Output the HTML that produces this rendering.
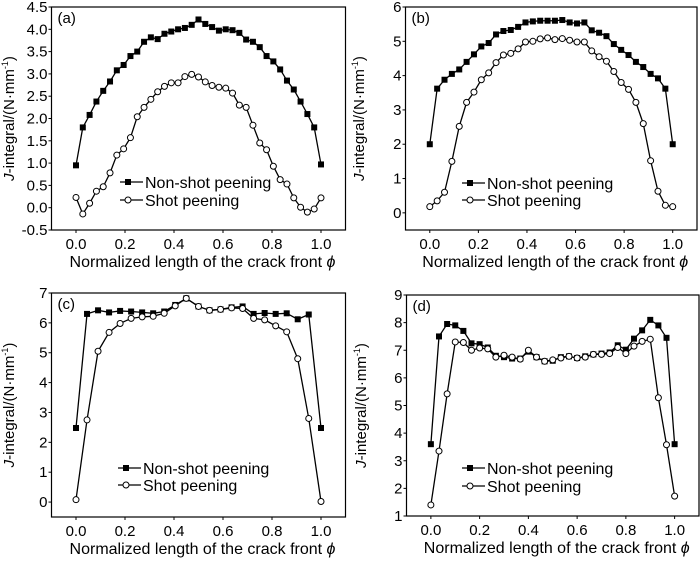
<!DOCTYPE html>
<html><head><meta charset="utf-8">
<style>
html,body{margin:0;padding:0;background:#fff;}
svg{display:block;font-family:"Liberation Sans",sans-serif;}
</style></head>
<body>
<svg id="fig" width="700" height="561" viewBox="0 0 700 561" xmlns="http://www.w3.org/2000/svg"></svg>
<script>
// ---- data ----
const xA = Array.from({length:37},(_, i)=>i/36);
const nonShotA = [0.95,1.8,2.08,2.38,2.62,2.83,3.08,3.2,3.4,3.5,3.72,3.82,3.78,3.9,3.95,4.0,4.03,4.1,4.22,4.12,4.05,3.97,4.0,3.98,3.92,3.77,3.72,3.6,3.4,3.28,3.1,2.85,2.65,2.38,2.1,1.8,0.97];
const shotA = [0.23,-0.14,0.1,0.37,0.47,0.78,1.18,1.32,1.57,2.04,2.25,2.43,2.6,2.72,2.8,2.8,2.94,2.99,2.93,2.82,2.74,2.7,2.68,2.57,2.3,2.25,1.85,1.45,1.3,0.93,0.63,0.53,0.22,0.01,-0.1,-0.03,0.22];
const xB = Array.from({length:34},(_, i)=>i/33);
const nonShotB = [2.0,3.62,3.88,4.05,4.18,4.4,4.62,4.85,4.95,5.2,5.3,5.33,5.42,5.55,5.58,5.6,5.6,5.6,5.62,5.55,5.52,5.55,5.32,5.25,5.15,4.92,4.75,4.6,4.4,4.25,4.05,3.92,3.62,2.0];
const shotB = [0.18,0.35,0.6,1.5,2.52,3.22,3.52,3.88,4.08,4.38,4.6,4.65,4.78,4.98,5.0,5.07,5.1,5.05,5.08,5.03,4.98,4.98,4.72,4.55,4.42,4.12,3.8,3.6,3.22,2.6,1.52,0.63,0.22,0.18];
const xC = [0,0.045,0.09,0.135,0.18,0.225,0.27,0.315,0.36,0.405,0.45,0.5,0.545,0.59,0.635,0.68,0.725,0.77,0.815,0.86,0.905,0.95,1.0];
const nonShotC = [2.48,6.3,6.42,6.35,6.4,6.38,6.35,6.32,6.38,6.6,6.82,6.55,6.42,6.45,6.52,6.55,6.3,6.33,6.3,6.32,6.12,6.28,2.48];
const shotC = [0.08,2.75,5.05,5.68,5.98,6.15,6.2,6.22,6.32,6.57,6.82,6.55,6.42,6.45,6.5,6.48,6.15,6.1,5.9,5.7,4.8,2.8,0.02];
const xD = Array.from({length:31},(_, i)=>i/30);
const nonShotD = [3.6,7.5,7.95,7.9,7.7,7.25,7.22,7.1,6.8,6.75,6.7,6.7,6.95,6.75,6.6,6.62,6.75,6.78,6.72,6.78,6.85,6.88,6.92,7.18,7.02,7.42,7.72,8.1,7.9,7.45,3.6];
const shotD = [1.4,3.35,5.42,7.3,7.28,7.0,7.08,7.05,6.75,6.82,6.75,6.68,7.0,6.75,6.6,6.65,6.72,6.78,6.72,6.75,6.85,6.85,6.88,7.1,6.88,7.15,7.32,7.4,5.28,3.58,1.72];
const xTicks = [0.0,0.2,0.4,0.6,0.8,1.0];
const yTicksA = [-0.5,0.0,0.5,1.0,1.5,2.0,2.5,3.0,3.5,4.0,4.5];
const yTicksB = [0,1,2,3,4,5,6];
const yTicksC = [0,1,2,3,4,5,6,7];
const yTicksD = [1,2,3,4,5,6,7,8,9];

const NS='http://www.w3.org/2000/svg';
const svg=document.getElementById('fig');
function mk(tag,attrs,parent){const e=document.createElementNS(NS,tag);for(const k in attrs)e.setAttribute(k,attrs[k]);(parent||svg).appendChild(e);return e;}

function panel(p){
  const g=mk('g',{});
  
  
  const sx=v=>p.x0+(v-p.xmin)/(p.xmax-p.xmin)*(p.x1-p.x0);
  const sy=v=>p.y1-(v-p.ymin)/(p.ymax-p.ymin)*(p.y1-p.y0);
  const frame=mk('rect',{x:p.x0,y:p.y0,width:p.x1-p.x0,height:p.y1-p.y0,fill:'none',stroke:'#000','stroke-width':1.2},g);
  
  
  xTicks.forEach(t=>{
    mk('line',{x1:sx(t),x2:sx(t),y1:p.y1,y2:p.y1+3,stroke:'#000'},g);
    const tx=mk('text',{x:sx(t),y:p.y1+19,'font-size':15,'text-anchor':'middle'},g);
    tx.textContent=t.toFixed(1);
    
    
  });
  p.yTicks.forEach(t=>{
    mk('line',{x1:p.x0-3,x2:p.x0,y1:sy(t),y2:sy(t),stroke:'#000'},g);
    const tx=mk('text',{x:p.x0-4,y:sy(t)+5,'font-size':15,'text-anchor':'end'},g);
    tx.textContent=p.dec?t.toFixed(1):String(t);
    
    
  });
  const xt=mk('text',{x:(p.x0+p.x1)/2+4,y:p.y1+37,'font-size':16,'text-anchor':'middle'},g);
  xt.innerHTML='Normalized length of the crack front <tspan font-style="italic">ϕ</tspan>';
  
  
  const yc=(p.y0+p.y1)/2, yx=p.ytx;
  const yt=mk('text',{x:yx,y:yc,'font-size':15,'text-anchor':'middle',transform:`rotate(-90 ${yx} ${yc})`},g);
  yt.innerHTML='<tspan font-style="italic">J</tspan>-integral/(N·mm<tspan font-size="9" dy="-6">-1</tspan><tspan dy="6">)</tspan>';
  
  
  const lb=mk('text',{x:p.x0+6,y:p.y0+16,'font-size':15},g);
  lb.textContent='('+p.id+')';
  
  
  function series(xs,ys,kind,name){
    const sg=mk('g',{},g);
    
    
    mk('polyline',{points:xs.map((x,i)=>sx(x)+','+sy(ys[i])).join(' '),fill:'none',stroke:'#000','stroke-width':1.3,'stroke-linejoin':'round'},sg);
    xs.forEach((x,i)=>{
      let m;
      if(kind==='sq') m=mk('rect',{x:sx(x)-3,y:sy(ys[i])-3,width:6,height:6,fill:'#000'},sg);
      else m=mk('circle',{cx:sx(x),cy:sy(ys[i]),r:3,fill:'#fff',stroke:'#000','stroke-width':1},sg);
      
      
    });
  }
  series(p.xs,p.ns,'sq','non-shot-series');
  series(p.xs,p.sh,'ci','shot-series');
  const lg=mk('g',{},g);
  
  
  [['Non-shot peening','sq',p.ly1],['Shot peening','ci',p.ly2]].forEach(([t,k,y])=>{
    const e=mk('g',{},lg);
    
    
    mk('line',{x1:p.lx,x2:p.lx+23,y1:y,y2:y,stroke:'#000','stroke-width':1.3},e);
    if(k==='sq') mk('rect',{x:p.lx+5,y:y-3,width:6,height:6,fill:'#000'},e);
    else mk('circle',{cx:p.lx+8,cy:y,r:3,fill:'#fff',stroke:'#000'},e);
    const tx=mk('text',{x:p.lx+25,y:y+6,'font-size':16},e);
    tx.textContent=t;
  });
}
panel({id:'a',x0:51.5,x1:345.5,y0:7,y1:230,xmin:-0.1,xmax:1.1,ymin:-0.5,ymax:4.5,yTicks:yTicksA,dec:true,ytx:14,xs:xA,ns:nonShotA,sh:shotA,lx:120,ly1:182,ly2:200});
panel({id:'b',x0:405.5,x1:697,y0:7,y1:230,xmin:-0.1,xmax:1.1,ymin:-0.5,ymax:6,yTicks:yTicksB,dec:false,ytx:364,xs:xB,ns:nonShotB,sh:shotB,lx:462,ly1:183,ly2:200});
panel({id:'c',x0:51.5,x1:345.5,y0:293,y1:517,xmin:-0.1,xmax:1.1,ymin:-0.5,ymax:7,yTicks:yTicksC,dec:false,ytx:14,xs:xC,ns:nonShotC,sh:shotC,lx:118,ly1:468,ly2:485});
panel({id:'d',x0:406.5,x1:699,y0:295,y1:516,xmin:-0.1,xmax:1.1,ymin:1,ymax:9,yTicks:yTicksD,dec:false,ytx:366,xs:xD,ns:nonShotD,sh:shotD,lx:462,ly1:468,ly2:486});
</script>
</body></html>
